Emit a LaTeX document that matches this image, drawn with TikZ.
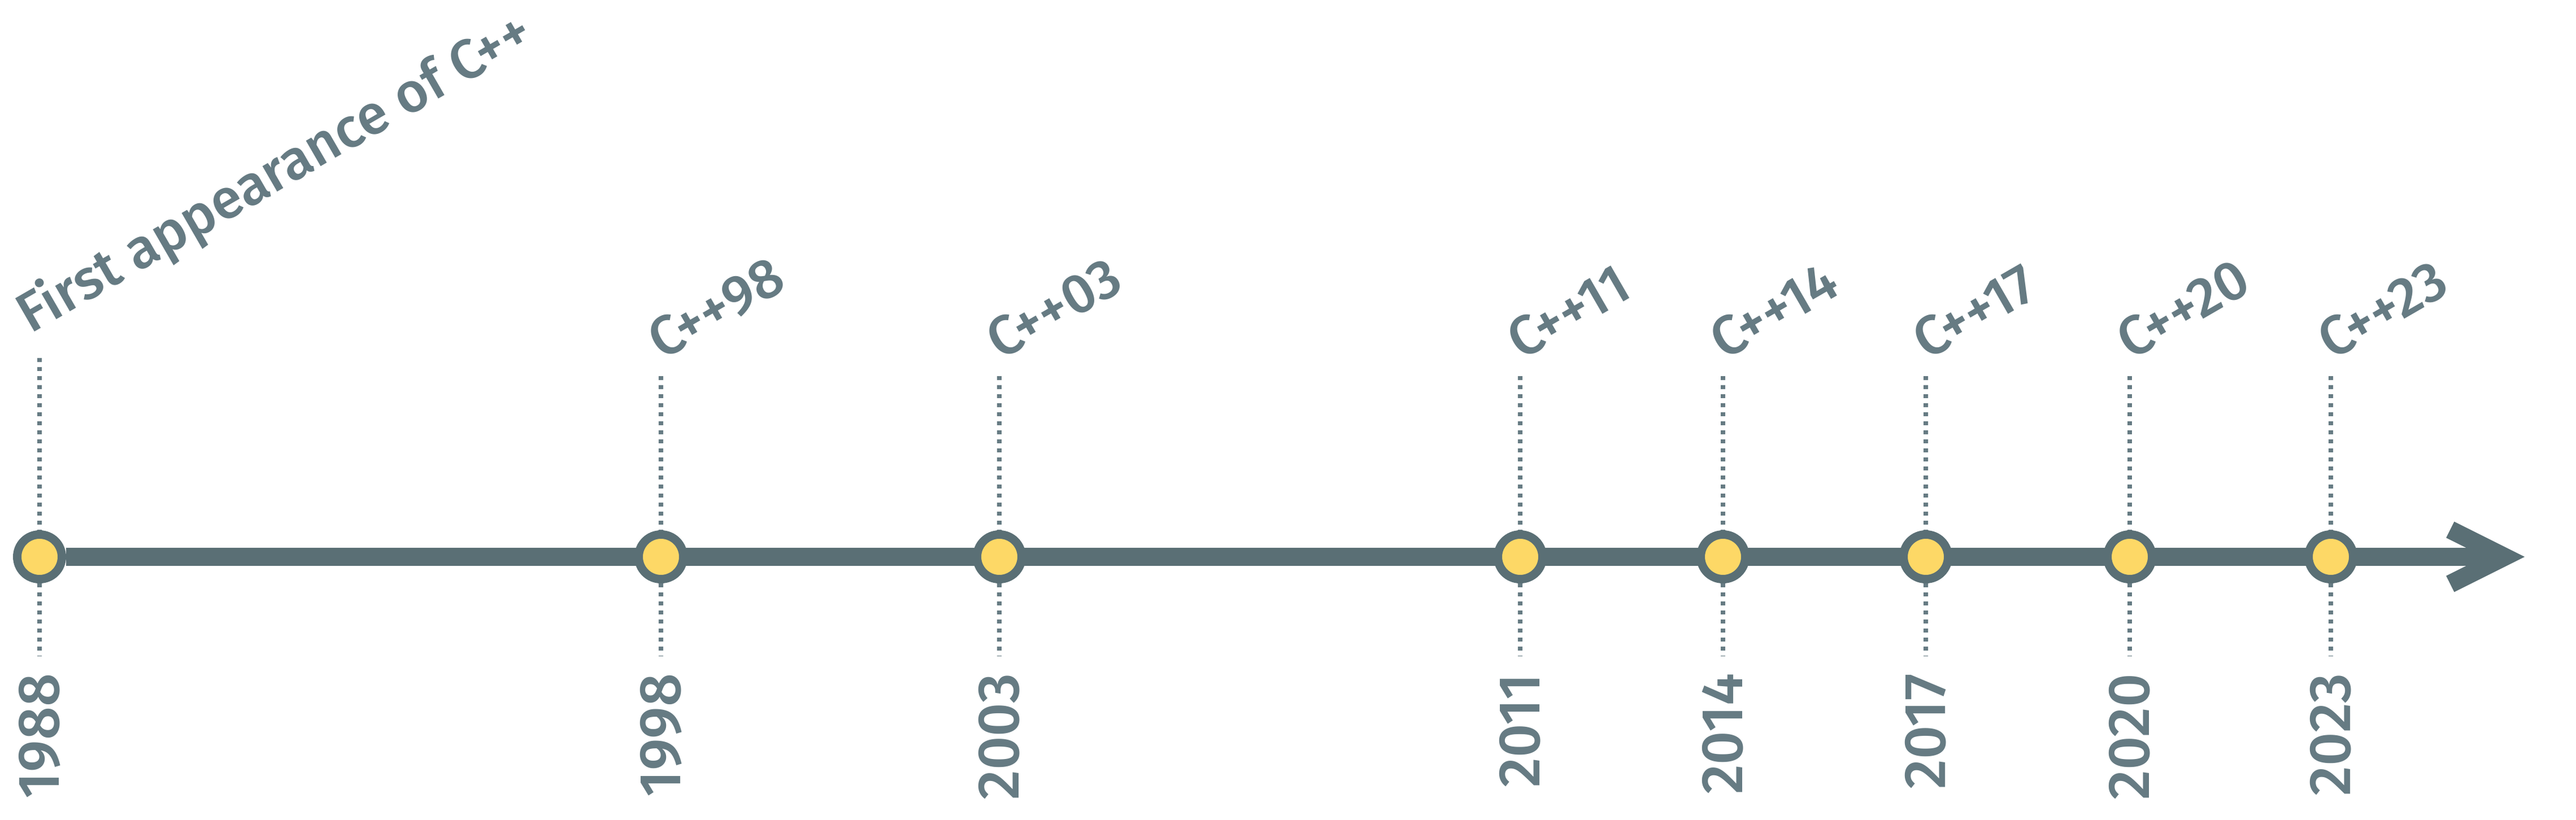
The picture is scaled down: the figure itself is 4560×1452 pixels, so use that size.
\documentclass[tikz,border=0pt]{standalone}
\usepackage{fontspec}
\setmainfont{Fira Sans}[UprightFont=* Medium]
\usetikzlibrary{arrows.meta,backgrounds}
\definecolor{axisgray}{HTML}{5A6F75}
\definecolor{labelgray}{HTML}{667B83}
\definecolor{dotyellow}{HTML}{FDD866}
\tikzset{
  event/.style={circle,draw=axisgray,fill=dotyellow,line width=3.75pt,minimum size=19.75pt,inner sep=0pt},
  guide/.style={labelgray,line width=1.875pt,dash pattern=on 1.875pt off 2.125pt},
  axis/.style={axisgray,line width=8pt,-{Straight Barb[length=24pt,width=24pt,sharp]}},
  release/.style={labelgray,rotate=30,anchor=base west,inner sep=0pt,font=\fontsize{24.6}{28}\selectfont},
  yearlab/.style={labelgray,rotate=90,anchor=east,inner sep=0pt,font=\fontsize{26}{30}\selectfont}
}
\begin{document}
\begin{tikzpicture}[x=0.25pt,y=-0.25pt]
\useasboundingbox (0,0) rectangle (4560,1452);
\foreach \n/\x/\yr in {a/70/1988,b/1170/1998,c/1769/2003,d/2691/2011,e/3050/2014,f/3409/2017,g/3770/2020,h/4126/2023}{
  \node[event] (ev\n) at (\x,986) {};
  \coordinate (bot\n) at (\x,1162);
  \draw[guide] (ev\n.south) -- (bot\n);
  \node[yearlab] (yr\n) at (\x,1192) {\yr};
}
\foreach \n/\x/\rel in {b/1170/C++98,c/1769/C++03,d/2691/C++11,e/3050/C++14,f/3409/C++17,g/3770/C++20,h/4126/C++23}{
  \coordinate (top\n) at (\x,666);
  \draw[guide] (top\n) -- (ev\n.north);
  \node[release] (rel\n) at (\x+2,639) {\rel};
}
\coordinate (topa) at (70,634);
\draw[guide] (topa) -- (eva.north);
\node[release] (rela) at (54,592) {First appearance of C++};
% time axis
\coordinate (tip) at (4469,986);
\begin{scope}[on background layer]
  \draw[axis] (eva) -- (tip);
\end{scope}
\end{tikzpicture}
\end{document}
